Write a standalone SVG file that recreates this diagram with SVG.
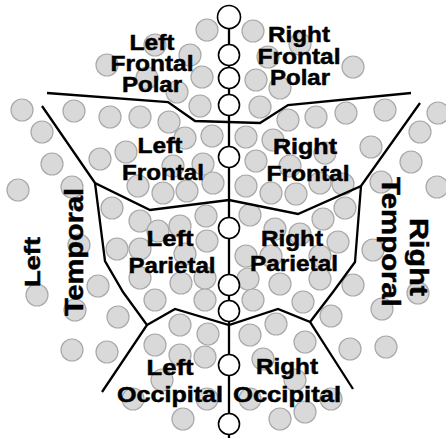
<svg xmlns="http://www.w3.org/2000/svg" width="446" height="438" viewBox="0 0 446 438">
<style>
.g{fill:#d9d9d9;stroke:#a9a9a9;stroke-width:1.2}
.w{fill:#fff;stroke:#000;stroke-width:1.6}
.b{fill:none;stroke:#000;stroke-width:2.3;stroke-linejoin:miter}
.t{font-family:"Liberation Sans",Arial,sans-serif;font-weight:bold;font-size:22px;fill:#000;stroke:#000;stroke-width:0.5;text-anchor:middle}
</style>
<rect width="446" height="438" fill="#fff"/>
<g id="grid">
<circle class="g" cx="207" cy="30" r="11"/><circle class="g" cx="253" cy="31" r="11"/>
<circle class="g" cx="155" cy="45" r="11"/><circle class="g" cx="300" cy="44" r="11"/>
<circle class="g" cx="190" cy="55" r="11"/><circle class="g" cx="268" cy="57" r="11"/>
<circle class="g" cx="107" cy="65" r="11"/><circle class="g" cx="353" cy="67" r="11"/>
<circle class="g" cx="147" cy="78" r="11"/><circle class="g" cx="202" cy="77" r="11"/>
<circle class="g" cx="256" cy="80" r="11"/><circle class="g" cx="280" cy="88" r="11"/>
<circle class="g" cx="177" cy="92" r="11"/><circle class="g" cx="200" cy="106" r="11"/>
<circle class="g" cx="260" cy="107" r="11"/><circle class="g" cx="22" cy="110" r="11"/>
<circle class="g" cx="74" cy="111" r="11"/><circle class="g" cx="110" cy="117" r="11"/>
<circle class="g" cx="140" cy="117" r="11"/><circle class="g" cx="169" cy="122" r="11"/>
<circle class="g" cx="288" cy="120" r="11"/><circle class="g" cx="316" cy="117" r="11"/>
<circle class="g" cx="346" cy="113" r="11"/><circle class="g" cx="385" cy="110" r="11"/>
<circle class="g" cx="438" cy="113" r="11"/><circle class="g" cx="42" cy="132" r="11"/>
<circle class="g" cx="185" cy="138" r="11"/><circle class="g" cx="212" cy="136" r="11"/>
<circle class="g" cx="246" cy="137" r="11"/><circle class="g" cx="273" cy="140" r="11"/>
<circle class="g" cx="420" cy="132" r="11"/><circle class="g" cx="371" cy="147" r="11"/>
<circle class="g" cx="126" cy="152" r="11"/><circle class="g" cx="52" cy="164" r="11"/>
<circle class="g" cx="100" cy="159" r="11"/><circle class="g" cx="203" cy="164" r="11"/>
<circle class="g" cx="173" cy="166" r="11"/><circle class="g" cx="256" cy="161" r="11"/>
<circle class="g" cx="290" cy="166" r="11"/><circle class="g" cx="325" cy="153" r="11"/>
<circle class="g" cx="411" cy="162" r="11"/><circle class="g" cx="18" cy="190" r="11"/>
<circle class="g" cx="72" cy="187" r="11"/><circle class="g" cx="138" cy="186" r="11"/>
<circle class="g" cx="163" cy="193" r="11"/><circle class="g" cx="187" cy="191" r="11"/>
<circle class="g" cx="213" cy="183" r="11"/><circle class="g" cx="246" cy="186" r="11"/>
<circle class="g" cx="271" cy="193" r="11"/><circle class="g" cx="296" cy="194" r="11"/>
<circle class="g" cx="320" cy="183" r="11"/><circle class="g" cx="343" cy="184" r="11"/>
<circle class="g" cx="381" cy="182" r="11"/><circle class="g" cx="437" cy="187" r="11"/>
<circle class="g" cx="112" cy="208" r="11"/><circle class="g" cx="140" cy="221" r="11"/>
<circle class="g" cx="158" cy="231" r="11"/><circle class="g" cx="180" cy="226" r="11"/>
<circle class="g" cx="206" cy="216" r="11"/><circle class="g" cx="250" cy="215" r="11"/>
<circle class="g" cx="275" cy="229" r="11"/><circle class="g" cx="300" cy="234" r="11"/>
<circle class="g" cx="323" cy="219" r="11"/><circle class="g" cx="345" cy="208" r="11"/>
<circle class="g" cx="79" cy="245" r="11"/><circle class="g" cx="117" cy="249" r="11"/>
<circle class="g" cx="140" cy="249" r="11"/><circle class="g" cx="185" cy="254" r="11"/>
<circle class="g" cx="207" cy="241" r="11"/><circle class="g" cx="246" cy="256" r="11"/>
<circle class="g" cx="271" cy="256" r="11"/><circle class="g" cx="320" cy="256" r="11"/>
<circle class="g" cx="338" cy="242" r="11"/><circle class="g" cx="373" cy="250" r="11"/>
<circle class="g" cx="140" cy="278" r="11"/><circle class="g" cx="98" cy="286" r="11"/>
<circle class="g" cx="181" cy="283" r="11"/><circle class="g" cx="205" cy="278" r="11"/>
<circle class="g" cx="248" cy="279" r="11"/><circle class="g" cx="280" cy="284" r="11"/>
<circle class="g" cx="320" cy="279" r="11"/><circle class="g" cx="353" cy="285" r="11"/>
<circle class="g" cx="418" cy="293" r="11"/><circle class="g" cx="37" cy="295" r="11"/>
<circle class="g" cx="75" cy="310" r="11"/><circle class="g" cx="118" cy="317" r="11"/>
<circle class="g" cx="155" cy="300" r="11"/><circle class="g" cx="205" cy="300" r="11"/>
<circle class="g" cx="253" cy="300" r="11"/><circle class="g" cx="303" cy="302" r="11"/>
<circle class="g" cx="382" cy="309" r="11"/><circle class="g" cx="331" cy="316" r="11"/>
<circle class="g" cx="180" cy="325" r="11"/><circle class="g" cx="208" cy="334" r="11"/>
<circle class="g" cx="250" cy="335" r="11"/><circle class="g" cx="276" cy="324" r="11"/>
<circle class="g" cx="72" cy="350" r="11"/><circle class="g" cx="107" cy="352" r="11"/>
<circle class="g" cx="155" cy="345" r="11"/><circle class="g" cx="180" cy="355" r="11"/>
<circle class="g" cx="205" cy="357" r="11"/><circle class="g" cx="305" cy="342" r="11"/>
<circle class="g" cx="350" cy="349" r="11"/><circle class="g" cx="386" cy="347" r="11"/>
<circle class="g" cx="263" cy="359" r="11"/><circle class="g" cx="162" cy="380" r="11"/>
<circle class="g" cx="295" cy="380" r="11"/><circle class="g" cx="133" cy="399" r="11"/>
<circle class="g" cx="207" cy="399" r="11"/><circle class="g" cx="250" cy="399" r="11"/>
<circle class="g" cx="331" cy="399" r="11"/><circle class="g" cx="183" cy="419" r="11"/>
<circle class="g" cx="280" cy="419" r="11"/><circle class="g" cx="305" cy="412" r="11"/>
</g>
<g id="connectors">
<line class="b" x1="229" y1="17" x2="229" y2="438"/>
<polyline class="b" points="47,93 168,102 195,121 260,123 288,105 411,93"/>
<polyline class="b" points="42,106 95,183 150,210 229,200 298,214 361,186 420,103"/>
<polyline class="b" points="95,183 105,261 123,292 147,325 102,392"/>
<polyline class="b" points="147,325 175,309 229,325 278,309 310,322 353,389"/>
<polyline class="b" points="361,186 355,262 333,292 310,322"/>
</g>
<g id="midline">
<circle class="w" cx="229" cy="17" r="11.5"/>
<circle class="w" cx="229" cy="55" r="10.5"/>
<circle class="w" cx="229" cy="78" r="10.5"/>
<circle class="w" cx="229" cy="105" r="10.5"/>
<circle class="w" cx="229" cy="157" r="10.5"/>
<circle class="w" cx="229" cy="228" r="10.5"/>
<circle class="w" cx="229" cy="285" r="10.5"/>
<circle class="w" cx="229" cy="311" r="10.5"/>
<circle class="w" cx="229" cy="365" r="10.5"/>
<circle class="w" cx="229" cy="424" r="10.5"/>
</g>
<g id="left-frontal-polar"><text class="t" x="152" y="50" textLength="45" lengthAdjust="spacingAndGlyphs">Left</text><text class="t" x="152" y="71" textLength="83" lengthAdjust="spacingAndGlyphs">Frontal</text><text class="t" x="152" y="92" textLength="60" lengthAdjust="spacingAndGlyphs">Polar</text></g>
<g id="right-frontal-polar"><text class="t" x="299" y="42" textLength="62" lengthAdjust="spacingAndGlyphs">Right</text><text class="t" x="299" y="64" textLength="83" lengthAdjust="spacingAndGlyphs">Frontal</text><text class="t" x="300" y="85" textLength="60" lengthAdjust="spacingAndGlyphs">Polar</text></g>
<g id="left-frontal"><text class="t" x="160" y="153" textLength="45" lengthAdjust="spacingAndGlyphs">Left</text><text class="t" x="163" y="180" textLength="82" lengthAdjust="spacingAndGlyphs">Frontal</text></g>
<g id="right-frontal"><text class="t" x="305" y="154" textLength="64" lengthAdjust="spacingAndGlyphs">Right</text><text class="t" x="308" y="181" textLength="83" lengthAdjust="spacingAndGlyphs">Frontal</text></g>
<g id="left-parietal"><text class="t" x="170" y="246" textLength="47" lengthAdjust="spacingAndGlyphs">Left</text><text class="t" x="172" y="273" textLength="87" lengthAdjust="spacingAndGlyphs">Parietal</text></g>
<g id="right-parietal"><text class="t" x="292" y="246" textLength="62" lengthAdjust="spacingAndGlyphs">Right</text><text class="t" x="294" y="271" textLength="88" lengthAdjust="spacingAndGlyphs">Parietal</text></g>
<g id="left-occipital"><text class="t" x="170" y="375" textLength="47" lengthAdjust="spacingAndGlyphs">Left</text><text class="t" x="170" y="402" textLength="106" lengthAdjust="spacingAndGlyphs">Occipital</text></g>
<g id="right-occipital"><text class="t" x="287" y="374" textLength="62" lengthAdjust="spacingAndGlyphs">Right</text><text class="t" x="287" y="402" textLength="108" lengthAdjust="spacingAndGlyphs">Occipital</text></g>
<g id="left-temporal">
<text class="t" style="font-size:22px" transform="translate(40,262) rotate(-90)" textLength="50" lengthAdjust="spacingAndGlyphs">Left</text>
<text class="t" style="font-size:25px" transform="translate(83,252) rotate(-90)" textLength="128" lengthAdjust="spacingAndGlyphs">Temporal</text>
</g>
<g id="right-temporal">
<text class="t" style="font-size:25px" transform="translate(410,257) rotate(90)" textLength="78" lengthAdjust="spacingAndGlyphs">Right</text>
<text class="t" style="font-size:25px" transform="translate(382,242) rotate(90)" textLength="130" lengthAdjust="spacingAndGlyphs">Temporal</text>
</g>
</svg>
